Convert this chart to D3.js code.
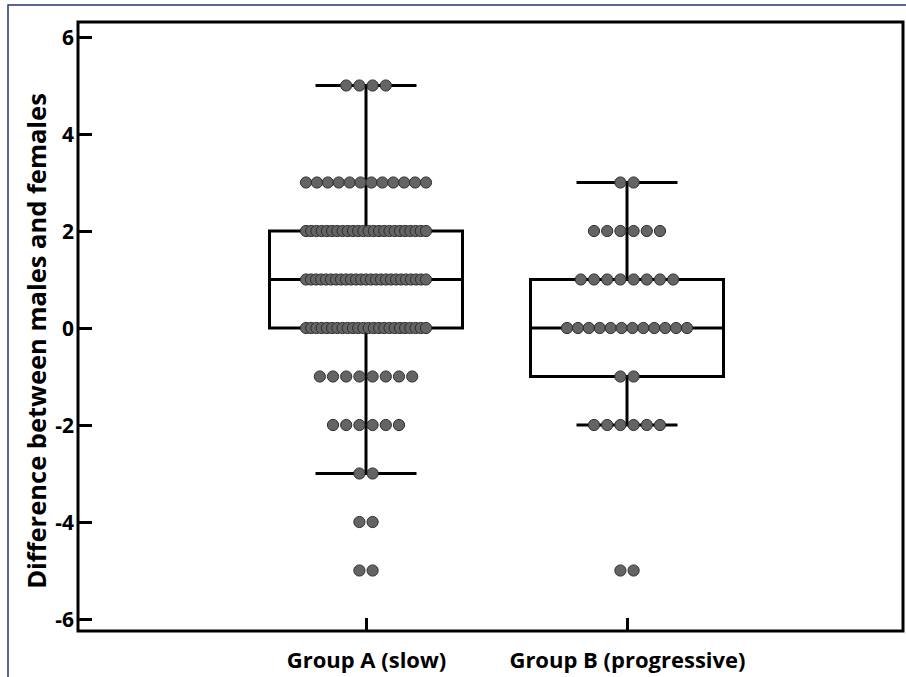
<!DOCTYPE html>
<html>
  <head>
    <meta charset="utf-8">
    <title>Difference between males and females by group</title>
    <script src="https://d3js.org/d3.v7.min.js"></script>
    <style>
      body { margin: 0; background: #fff; }
      svg { display: block; }
    </style>
  </head>
  <body>
    <svg id="chart"></svg>
    <script>
// groups on the x axis
var groups = ["Group A (slow)", "Group B (progressive)"];

// observed values (distinct levels) and how many dots sit at each level
var groupAValues = [5, 3, 2, 1, 0, -1, -2, -3, -4, -5];
var groupACounts = [4, 12, 24, 25, 24, 8, 6, 2, 2, 2];
var groupBValues = [3, 2, 1, 0, -1, -2, -5];
var groupBCounts = [2, 6, 8, 12, 2, 6, 2];

// box stats: [lowWhisker, q1, median, q3, highWhisker]
var boxA = [-3, 0, 1, 2, 5];
var boxB = [-2, -1, 0, 1, 3];

var yTicks = [-6, -4, -2, 0, 2, 4, 6];
var yTitle = "Difference between males and females";

var width = 906, height = 677;
var frame = { left: 78, top: 22, right: 903, bottom: 631 };
var font = "'Open Sans', sans-serif";

var svg = d3.select("#chart")
  .attr("width", width)
  .attr("height", height);

// thin navy border of the figure
svg.append("path")
  .attr("d", "M8,677 L8,5 L906,5")
  .attr("fill", "none")
  .attr("stroke", "#26337a")
  .attr("stroke-width", 1.5);

var y = d3.scaleLinear()
  .domain([-6, 6])
  .range([619, 37]);

var x = d3.scalePoint()
  .domain(groups)
  .range([366, 627]);

// plot frame
svg.append("rect")
  .attr("x", frame.left)
  .attr("y", frame.top)
  .attr("width", frame.right - frame.left)
  .attr("height", frame.bottom - frame.top)
  .attr("fill", "none")
  .attr("stroke", "#000")
  .attr("stroke-width", 3);

// y axis, ticks pointing inwards
var yAxis = svg.append("g")
  .attr("transform", "translate(" + frame.left + ",0)")
  .call(d3.axisRight(y).tickValues(yTicks).tickSize(14).tickFormat(function(d) { return String(d); }));
yAxis.select(".domain").remove();
yAxis.selectAll(".tick line").attr("stroke", "#000").attr("stroke-width", 3);
yAxis.selectAll(".tick text")
  .attr("x", -4)
  .attr("dy", "0.36em")
  .attr("text-anchor", "end")
  .style("font-family", font)
  .style("font-weight", "bold")
  .style("font-size", "21px")
  .attr("fill", "#000");

// x axis, ticks pointing inwards
var xAxis = svg.append("g")
  .attr("transform", "translate(0," + frame.bottom + ")")
  .call(d3.axisTop(x).tickSize(13));
xAxis.select(".domain").remove();
xAxis.selectAll(".tick line").attr("stroke", "#000").attr("stroke-width", 3);
xAxis.selectAll(".tick text")
  .attr("y", 37)
  .attr("dy", 0)
  .style("font-family", font)
  .style("font-weight", "bold")
  .style("font-size", "22px")
  .attr("fill", "#000");

// y title
svg.append("text")
  .attr("transform", "translate(46,341) rotate(-90)")
  .attr("text-anchor", "middle")
  .style("font-family", font)
  .style("font-weight", "bold")
  .style("font-size", "25.5px")
  .text(yTitle);

// box plots
var boxes = [boxA, boxB];
var boxHalf = 96.5, capHalf = 50.5;

boxes.forEach(function(b, i) {
  var cx = x(groups[i]);
  var g = svg.append("g").attr("stroke", "#000").attr("stroke-width", 3).attr("fill", "none");
  // whisker stems
  g.append("line").attr("x1", cx).attr("x2", cx).attr("y1", y(b[4])).attr("y2", y(b[3]));
  g.append("line").attr("x1", cx).attr("x2", cx).attr("y1", y(b[1])).attr("y2", y(b[0]));
  // caps
  g.append("line").attr("x1", cx - capHalf).attr("x2", cx + capHalf).attr("y1", y(b[4])).attr("y2", y(b[4]));
  g.append("line").attr("x1", cx - capHalf).attr("x2", cx + capHalf).attr("y1", y(b[0])).attr("y2", y(b[0]));
  // box
  g.append("rect")
    .attr("x", cx - boxHalf)
    .attr("y", y(b[3]))
    .attr("width", boxHalf * 2)
    .attr("height", y(b[1]) - y(b[3]));
  // median
  g.append("line").attr("x1", cx - boxHalf).attr("x2", cx + boxHalf).attr("y1", y(b[2])).attr("y2", y(b[2]));
});

// dots, spread sideways in rows centred on each group
var dots = [];
[[groupAValues, groupACounts], [groupBValues, groupBCounts]].forEach(function(s, gi) {
  s[0].forEach(function(v, k) {
    var n = s[1][k];
    var step = n > 1 ? Math.min(13.2, 120 / (n - 1)) : 0;
    for (var j = 0; j < n; j++) {
      dots.push({ group: groups[gi], value: v, off: (j - (n - 1) / 2) * step });
    }
  });
});

svg.append("g").selectAll("circle")
  .data(dots)
  .enter().append("circle")
  .attr("cx", function(d) { return x(d.group) + d.off; })
  .attr("cy", function(d) { return y(d.value); })
  .attr("r", 5.6)
  .attr("fill", "#646464")
  .attr("stroke", "#2e2e2e")
  .attr("stroke-width", 1);
    </script>
  </body>
</html>
